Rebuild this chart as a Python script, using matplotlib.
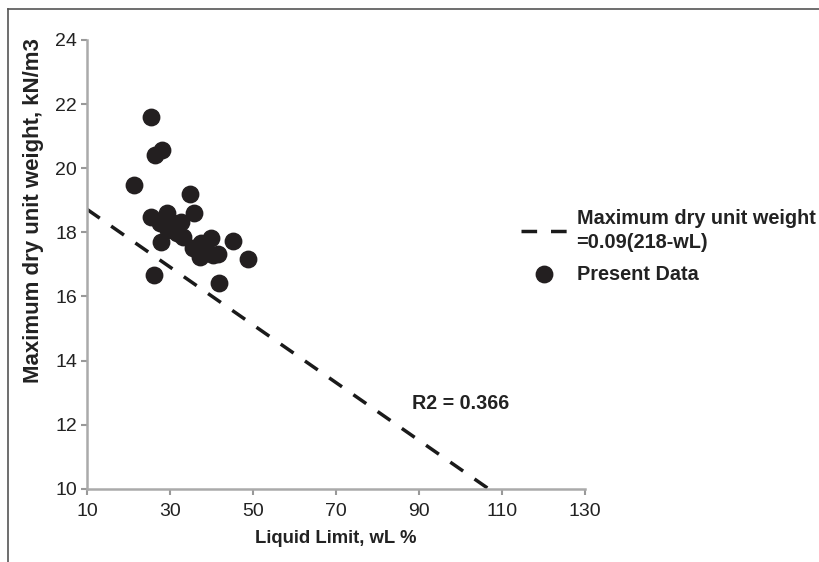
import numpy as np
import matplotlib.pyplot as plt
from matplotlib.lines import Line2D

plt.rcParams['font.family'] = ['Liberation Sans', 'DejaVu Sans']

# measured points (liquid limit %, max dry unit weight kN/m3)
wl = [25.4, 26.4, 28.1, 21.4, 34.8, 25.4, 29.2, 35.9, 27.6, 30.8, 32.8, 31.6, 33.2,
      29.6, 27.8, 35.6, 37.6, 40.0, 38.8, 37.2, 40.4, 41.6, 45.3, 48.9, 26.1, 41.9]
gamma_d = [21.61, 20.41, 20.57, 19.48, 19.19, 18.49, 18.60, 18.60, 18.28, 18.28, 18.33,
           17.97, 17.87, 18.08, 17.71, 17.50, 17.66, 17.82, 17.45, 17.24, 17.30, 17.33,
           17.74, 17.16, 16.67, 16.43]

# fitted relation gamma = 0.09(218 - wL)
fit_x = np.array([10, 218 - 10 / 0.09])
fit_y = 0.09 * (218 - fit_x)

x_ticks = [10, 30, 50, 70, 90, 110, 130]
y_ticks = [10, 12, 14, 16, 18, 20, 22, 24]

fig = plt.figure(figsize=(8.2, 5.62), dpi=100)
ax = fig.add_axes([0.106, 0.130, 0.607, 0.799])

ax.plot(fit_x, fit_y, color='#1a1a1a', lw=2.5, dashes=(4.5, 4.0),
        label='Maximum dry unit weight\n=0.09(218-wL)')
ax.scatter(wl, gamma_d, s=140, color='#231f20', zorder=3, label='Present Data')

ax.set_xlim(10, 130)
ax.set_ylim(10, 24)
ax.set_xticks(x_ticks)
ax.set_yticks(y_ticks)
ax.tick_params(colors='#999999', labelcolor='#222222', labelsize=14, length=4, width=1.5)
ax.tick_params(axis='x', pad=6)
ax.tick_params(axis='y', pad=3)
for s in ['top', 'right']:
    ax.spines[s].set_visible(False)
for s in ['left', 'bottom']:
    ax.spines[s].set_color('#aaaaaa')
    ax.spines[s].set_linewidth(1.8)

ax.set_xlabel('Liquid Limit, wL %', fontsize=13.3, fontweight='bold', color='#222222', labelpad=7)
ax.set_ylabel('Maximum dry unit weight, kN/m3', fontsize=16, fontweight='bold', color='#222222')
ax.yaxis.set_label_coords(-0.087, 0.619)

ax.text(88.3, 12.65, 'R2 = 0.366', fontsize=14.2, fontweight='bold', color='#222222', va='center')

leg = ax.legend(loc='upper left', bbox_to_anchor=(0.836, 0.663), frameon=False,
                prop={'size': 14.3, 'weight': 'bold'}, handlelength=2.3, handletextpad=0.5,
                labelspacing=0.65)
for t in leg.get_texts():
    t.set_color('#222222')
    t.set_linespacing(1.3)

# figure frame
fig.add_artist(Line2D([0.0098, 1.0], [0.984, 0.984], transform=fig.transFigure, color='#555555', lw=1.2))
fig.add_artist(Line2D([0.0098, 0.0098], [0.0, 0.984], transform=fig.transFigure, color='#555555', lw=1.2))

fig.savefig('out.png', dpi=100)
